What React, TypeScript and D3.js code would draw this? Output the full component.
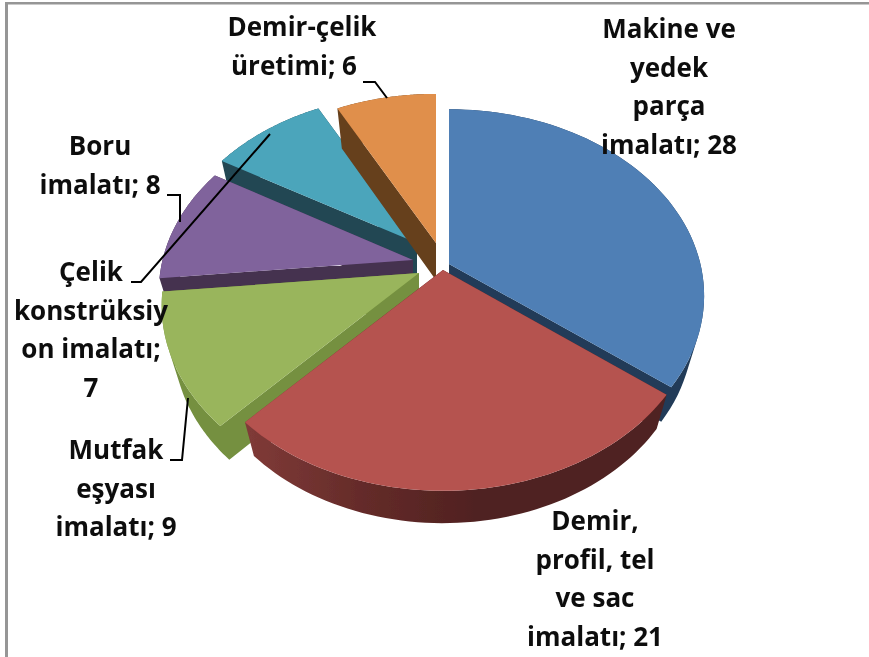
import * as d3 from 'd3'

const CATEGORIES = ['Makine ve yedek parça imalatı', 'Demir, profil, tel ve sac imalatı', 'Mutfak eşyası imalatı', 'Boru imalatı', 'Çelik konstrüksiyon imalatı', 'Demir-çelik üretimi']
const VALUES = [28, 21, 9, 8, 7, 6]
const LABEL_LINES = [
  ['Makine ve', 'yedek', 'parça', 'imalatı; 28'],
  ['Demir,', 'profil, tel', 've sac', 'imalatı; 21'],
  ['Mutfak', 'eşyası', 'imalatı; 9'],
  ['Boru', 'imalatı; 8'],
  ['Çelik', 'konstrüksiy', 'on imalatı;', '7'],
  ['Demir-çelik', 'üretimi; 6'],
]

// layout
const W = 869
const H = 657
const CX = 432, CY = 258, RX = 250, RY = 179, PERSP = 0.169
const DEPTH = 37
const APEX = [[449, 264], [443, 270], [419, 273], [413, 260], [417, 243], [436, 243]]
const TOP_COLORS = ['#4F7FB5', '#B5524F', '#99B55C', '#80639C', '#4BA5BB', '#E08F4B']
const WALL_COLORS = ['#203B58', '#5A2725', '#74903F', '#44304F', '#204753', '#66401E']
const LABEL_POS = [[669, 38], [595, 530], [116, 459], [100, 155], [91, 281], [302, 36]]
const LINE_NUDGE = [[0, 0, 0, 0], [0, 0, 0, 0], [0, 0, 0], [0, 0], [0, 0, 0, 0], [0, -8]]
const LINE_H = 38.6
const LEADERS = [
  [[363, 82], [375, 82], [387, 98]],
  [[167, 195], [180, 195], [180, 222]],
  [[270, 134], [141, 282], [131, 282]],
  [[188, 398], [182, 460], [170, 460]],
]
const PAINT_ORDER = [4, 5, 3, 0, 2, 1]

type Pt = [number, number]

const depthV = (y: number) => {
  const Y = y - CY
  return Y / (RY + PERSP * Y)
}

const pie = d3.pie<number>().sort(null)
const line = d3.line()

export default function App() {
  const arcs = pie(VALUES)

  const slices = arcs.map((a, i) => {
    const [ax, ay] = APEX[i]
    const v0 = depthV(ay)
    const project = (t: number): Pt => {
      const v = v0 - Math.cos(t)
      const d = 1 - PERSP * v
      return [ax + (RX * Math.sin(t)) / d, CY + (RY * v) / d]
    }
    // underside: pulled a little toward the slice apex and dropped by the pie depth
    const lower = ([x, y]: Pt): Pt => [ax + (x - ax) * 0.955, CY + (y - CY) * 0.98 + DEPTH]
    const steps = d3.range(0, 61).map(s => a.startAngle + ((a.endAngle - a.startAngle) * s) / 60)
    const top: Pt[] = [[ax, ay], ...steps.map(project)]
    // all quads wound the same way so one nonzero path has no seams or holes
    const walls = top
      .map((p, j) => {
        const q = top[(j + 1) % top.length]
        const quad: Pt[] = [p, q, lower(q), lower(p)]
        if (d3.polygonArea(quad) < 0) quad.reverse()
        return (line(quad) ?? '') + 'Z'
      })
      .join('')
    return { top, walls }
  })

  return (
    <svg width={W} height={H} style={{ position: 'absolute', left: 0, top: 0, display: 'block', background: '#fff' }}>
      <defs>
        <linearGradient id="redWall" gradientUnits="userSpaceOnUse" x1="250" x2="480" y1="0" y2="0">
          <stop offset="0" stopColor="#7F3A37" />
          <stop offset="0.5" stopColor="#642B29" />
          <stop offset="1" stopColor="#4F2120" />
        </linearGradient>
        <filter id="soft" x="-5%" y="-5%" width="110%" height="110%">
          <feGaussianBlur stdDeviation="0.5" />
        </filter>
      </defs>
      <g filter="url(#soft)">
        <rect x={5} y={2} width={3} height={H} fill="#969696" />
        <rect x={5} y={2} width={W} height={2.5} fill="#969696" />
        {PAINT_ORDER.map(k => {
          const s = slices[k]
          const wall = k === 1 ? 'url(#redWall)' : WALL_COLORS[k]
          return (
            <g key={CATEGORIES[k]}>
              <path d={s.walls} fill={wall} fillRule="nonzero" />
              <path d={line(s.top) + 'Z'} fill={TOP_COLORS[k]} />
            </g>
          )
        })}
        {LEADERS.map((pts, i) => (
          <path key={i} d={line(pts as Pt[]) ?? ''} fill="none" stroke="#000" strokeWidth={2} />
        ))}
        {LABEL_LINES.map((lines, i) => (
          <text key={i} fontFamily="'Open Sans', sans-serif" fontWeight={700} fontSize={26} fill="#111" textAnchor="middle">
            {lines.map((t, j) => (
              <tspan key={j} x={LABEL_POS[i][0] + LINE_NUDGE[i][j]} y={LABEL_POS[i][1] + j * LINE_H}>{t}</tspan>
            ))}
          </text>
        ))}
      </g>
    </svg>
  )
}
